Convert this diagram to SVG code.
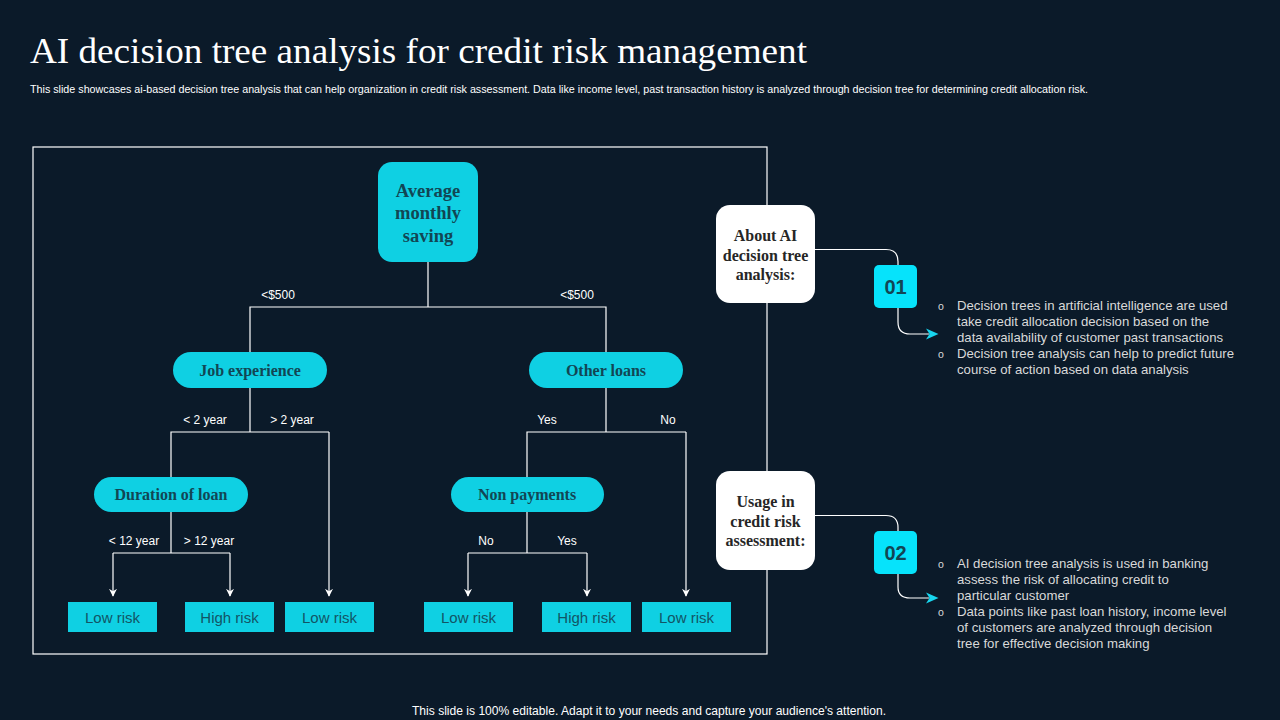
<svg xmlns="http://www.w3.org/2000/svg" width="1280" height="720" viewBox="0 0 1280 720">
<defs>
<marker id="arrW" viewBox="0 0 10 10" refX="9" refY="5" markerWidth="8" markerHeight="8" markerUnits="userSpaceOnUse" orient="auto">
<path d="M0,0 L10,5 L0,10 L3,5 Z" fill="#ffffff"/>
</marker>
<style>
.bg{fill:#0b1a29}
.title{font-family:"Liberation Serif",serif;font-size:36px;fill:#ffffff}
.sub{font-family:"Liberation Sans",Arial,sans-serif;font-size:10px;fill:#ffffff}
.foot{font-family:"Liberation Sans",Arial,sans-serif;font-size:12px;fill:#ffffff}
.node{fill:#0fd0e3}
.ntext{font-family:"Liberation Serif",serif;font-weight:bold;font-size:16px;fill:#124654;text-anchor:middle}
.root{font-size:18.5px}
.leaf{fill:#0fd0e3}
.ltext{font-family:"Liberation Sans",Arial,sans-serif;font-size:15px;fill:#125566;text-anchor:middle}
.blabel{font-family:"Liberation Sans",Arial,sans-serif;font-size:12px;fill:#ffffff;text-anchor:middle}
.wire{fill:none;stroke:#ffffff;stroke-width:1.2}
.frame{fill:none;stroke:#ffffff;stroke-width:1.2}
.wbox{fill:#ffffff}
.wtext{font-family:"Liberation Serif",serif;font-weight:bold;font-size:16px;fill:#262626;text-anchor:middle}
.num{fill:#06e3fb}
.ntxt{font-family:"Liberation Sans",Arial,sans-serif;font-weight:bold;font-size:20px;fill:#124654;text-anchor:middle}
.btext{font-family:"Liberation Sans",Arial,sans-serif;font-size:13.2px;fill:#d9d9d9}
.bul{font-family:"Liberation Sans",Arial,sans-serif;font-size:10.5px;fill:#d9d9d9}
.carr{fill:#18d6ef}
</style>
</defs>
<rect class="bg" x="0" y="0" width="1280" height="720"/>

<g id="header">
<text class="title" x="30" y="63" textLength="777" lengthAdjust="spacingAndGlyphs">AI decision tree analysis for credit risk management</text>
<text class="sub" x="30" y="93" textLength="1058" lengthAdjust="spacingAndGlyphs">This slide showcases ai-based decision tree analysis that can help organization in credit risk assessment. Data like income level, past transaction history is analyzed through decision tree for determining credit allocation risk.</text>
</g>

<rect id="frame" class="frame" x="33" y="147" width="734" height="507"/>

<g id="connectors">
<path class="wire" d="M428,262 V307 M250,352 V307 H606 V352"/>
<path class="wire" d="M250,388 V432 M171,477 V432 H329"/>
<path class="wire" d="M329,432 V596" marker-end="url(#arrW)"/>
<path class="wire" d="M606,388 V432 M527,477 V432 H686"/>
<path class="wire" d="M686,432 V596" marker-end="url(#arrW)"/>
<path class="wire" d="M171,512 V553 M113,553 H230"/>
<path class="wire" d="M113,553 V596" marker-end="url(#arrW)"/>
<path class="wire" d="M230,553 V596" marker-end="url(#arrW)"/>
<path class="wire" d="M527,512 V553 M468,553 H587"/>
<path class="wire" d="M468,553 V596" marker-end="url(#arrW)"/>
<path class="wire" d="M587,553 V596" marker-end="url(#arrW)"/>
<path class="wire" d="M815,249.5 H886 Q898,249.5 898,261.5 V265"/>
<path class="wire" d="M898,308 V322 Q898,334 910,334 H929"/>
<path class="carr" d="M926,328.5 L938.5,334 L926,339.5 L929.5,334 Z"/>
<path class="wire" d="M815,515.5 H886 Q898,515.5 898,527.5 V531"/>
<path class="wire" d="M898,574 V587 Q898,598 910,598 H929"/>
<path class="carr" d="M926,592.5 L938.5,598 L926,603.5 L929.5,598 Z"/>
</g>

<g id="labels">
<text class="blabel" x="278" y="299">&lt;$500</text>
<text class="blabel" x="577" y="299">&lt;$500</text>
<text class="blabel" x="205" y="424">&lt; 2 year</text>
<text class="blabel" x="292" y="424">&gt; 2 year</text>
<text class="blabel" x="547" y="424">Yes</text>
<text class="blabel" x="668" y="424">No</text>
<text class="blabel" x="134" y="545">&lt; 12 year</text>
<text class="blabel" x="209" y="545">&gt; 12 year</text>
<text class="blabel" x="486" y="545">No</text>
<text class="blabel" x="567" y="545">Yes</text>
</g>

<g id="node-root">
<rect class="node" x="378" y="162" width="100" height="100" rx="14"/>
<text class="ntext root" x="428" y="197">Average</text>
<text class="ntext root" x="428" y="219">monthly</text>
<text class="ntext root" x="428" y="242">saving</text>
</g>
<g id="node-job">
<rect class="node" x="173" y="352" width="154" height="36" rx="18"/>
<text class="ntext" x="250" y="375.5">Job experience</text>
</g>
<g id="node-other">
<rect class="node" x="529" y="352" width="154" height="36" rx="18"/>
<text class="ntext" x="606" y="375.5">Other loans</text>
</g>
<g id="node-duration">
<rect class="node" x="94" y="477" width="154" height="35" rx="17.5"/>
<text class="ntext" x="171" y="500">Duration  of loan</text>
</g>
<g id="node-nonpay">
<rect class="node" x="451" y="477" width="153" height="35" rx="17.5"/>
<text class="ntext" x="527" y="500">Non payments</text>
</g>

<g id="leaf-1"><rect class="leaf" x="68" y="602" width="89" height="30"/><text class="ltext" x="112.5" y="622.5">Low risk</text></g>
<g id="leaf-2"><rect class="leaf" x="185" y="602" width="89" height="30"/><text class="ltext" x="229.5" y="622.5">High risk</text></g>
<g id="leaf-3"><rect class="leaf" x="285" y="602" width="89" height="30"/><text class="ltext" x="329.5" y="622.5">Low risk</text></g>
<g id="leaf-4"><rect class="leaf" x="424" y="602" width="89" height="30"/><text class="ltext" x="468.5" y="622.5">Low risk</text></g>
<g id="leaf-5"><rect class="leaf" x="542" y="602" width="89" height="30"/><text class="ltext" x="586.5" y="622.5">High risk</text></g>
<g id="leaf-6"><rect class="leaf" x="642" y="602" width="89" height="30"/><text class="ltext" x="686.5" y="622.5">Low risk</text></g>

<g id="box-about">
<rect class="wbox" x="716" y="205" width="99" height="98" rx="14"/>
<text class="wtext" x="765.5" y="241">About AI</text>
<text class="wtext" x="765.5" y="261">decision tree</text>
<text class="wtext" x="765.5" y="280">analysis:</text>
</g>
<g id="box-usage">
<rect class="wbox" x="716" y="471" width="99" height="99" rx="14"/>
<text class="wtext" x="765.5" y="507">Usage in</text>
<text class="wtext" x="765.5" y="527">credit risk</text>
<text class="wtext" x="765.5" y="546">assessment:</text>
</g>

<g id="num-01">
<rect class="num" x="874" y="265" width="43" height="43" rx="5"/>
<text class="ntxt" x="895.5" y="293.5">01</text>
</g>
<g id="num-02">
<rect class="num" x="874" y="531" width="43" height="43" rx="5"/>
<text class="ntxt" x="895.5" y="559.5">02</text>
</g>

<g id="text-01">
<text class="bul" x="938" y="310">o</text>
<text class="btext" x="957" y="310">Decision trees in artificial intelligence are used</text>
<text class="btext" x="957" y="326">take credit allocation decision based on the</text>
<text class="btext" x="957" y="342">data availability  of customer past transactions</text>
<text class="bul" x="938" y="358">o</text>
<text class="btext" x="957" y="358">Decision tree analysis can help to predict future</text>
<text class="btext" x="957" y="374">course of action based on data analysis</text>
</g>
<g id="text-02">
<text class="bul" x="938" y="568">o</text>
<text class="btext" x="957" y="568">AI decision tree analysis is used in banking</text>
<text class="btext" x="957" y="584">assess the risk of allocating credit to</text>
<text class="btext" x="957" y="600">particular customer</text>
<text class="bul" x="938" y="616">o</text>
<text class="btext" x="957" y="616">Data points like past loan history, income level</text>
<text class="btext" x="957" y="632">of customers are analyzed through  decision</text>
<text class="btext" x="957" y="648">tree for  effective  decision making</text>
</g>

<text id="footer" class="foot" x="649" y="715" text-anchor="middle" textLength="474" lengthAdjust="spacingAndGlyphs">This slide is 100% editable. Adapt it to your needs and capture your audience's attention.</text>
</svg>
